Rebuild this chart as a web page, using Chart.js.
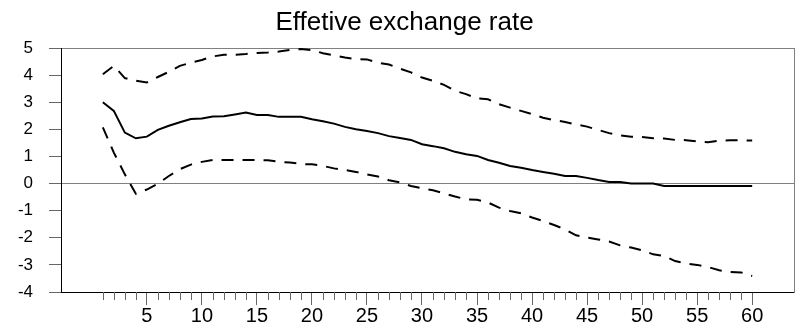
<!DOCTYPE html>
<html>
<head>
<meta charset="utf-8">
<script src="https://cdn.jsdelivr.net/npm/chart.js@4/dist/chart.umd.min.js"></script>
<style>
  html, body { margin: 0; padding: 0; background: #fff; }
  #wrap { width: 796px; height: 327px; }
</style>
</head>
<body>
<div id="wrap"><canvas id="myChart" width="796" height="327"></canvas></div>
<script>
// Impulse response periods
const periods = Array.from({ length: 60 }, (_, i) => i + 1);

// Response of the effective exchange rate
const response = [
    3.00, 2.68, 1.88, 1.67, 1.73, 1.98, 2.13, 2.26, 2.38, 2.40,
    2.47, 2.48, 2.55, 2.62, 2.53, 2.53, 2.46, 2.46, 2.46, 2.37,
    2.30, 2.21, 2.09, 2.00, 1.94, 1.86, 1.75, 1.68, 1.61, 1.45,
    1.38, 1.30, 1.17, 1.08, 1.02, 0.87, 0.77, 0.65, 0.58, 0.50,
    0.43, 0.36, 0.28, 0.28, 0.21, 0.13, 0.06, 0.06, 0.00, 0.00,
    0.00, -0.09, -0.09, -0.09, -0.09, -0.09, -0.09, -0.09, -0.09, -0.09
];

// Upper band (+2 s.e.)
const upper = [
    4.03, 4.34, 3.89, 3.79, 3.73, 3.93, 4.12, 4.34, 4.46, 4.56,
    4.69, 4.75, 4.75, 4.78, 4.82, 4.83, 4.87, 4.93, 4.96, 4.92,
    4.81, 4.73, 4.65, 4.59, 4.58, 4.46, 4.39, 4.24, 4.10, 3.91,
    3.79, 3.64, 3.42, 3.30, 3.14, 3.11, 2.93, 2.80, 2.68, 2.56,
    2.43, 2.34, 2.27, 2.18, 2.10, 1.98, 1.86, 1.78, 1.73, 1.72,
    1.67, 1.66, 1.61, 1.60, 1.55, 1.52, 1.58, 1.60, 1.59, 1.59
];

// Lower band (-2 s.e.)
const lower = [
    2.07, 1.14, 0.34, -0.38, -0.22, -0.01, 0.28, 0.53, 0.70, 0.80,
    0.87, 0.87, 0.87, 0.87, 0.87, 0.86, 0.80, 0.78, 0.72, 0.71,
    0.65, 0.56, 0.50, 0.43, 0.34, 0.26, 0.12, 0.04, -0.09, -0.17,
    -0.25, -0.36, -0.48, -0.58, -0.60, -0.70, -0.89, -1.01, -1.10, -1.25,
    -1.38, -1.53, -1.69, -1.91, -1.99, -2.06, -2.14, -2.28, -2.36, -2.46,
    -2.61, -2.67, -2.86, -2.95, -3.00, -3.08, -3.20, -3.26, -3.28, -3.41
];

// Axis ticks
const yTicks = [-4, -3, -2, -1, 0, 1, 2, 3, 4, 5];
const xLabelTicks = [5, 10, 15, 20, 25, 30, 35, 40, 45, 50, 55, 60];

const FONT = "Arial, 'Liberation Sans', sans-serif";
const TICK_GRAY = '#666666';
const FRAME_GRAY = '#808080';

function toPoints(values) {
    return periods.map((p, i) => ({ x: p, y: values[i] }));
}

// short tick marks for every period that has no label
const minorTicks = {
    id: 'minorTicks',
    afterDraw(chart) {
        const xs = chart.scales.x;
        const ctx = chart.ctx;
        ctx.save();
        ctx.strokeStyle = TICK_GRAY;
        ctx.lineWidth = 1;
        ctx.beginPath();
        periods.forEach(p => {
            if (p % 5 === 0) return;
            const px = Math.round(xs.getPixelForValue(p)) + 0.5;
            ctx.moveTo(px, xs.top);
            ctx.lineTo(px, xs.top + 8);
        });
        ctx.stroke();
        ctx.restore();
    }
};

const ctx = document.getElementById('myChart');

new Chart(ctx, {
    type: 'line',
    data: {
        datasets: [
            {
                data: toPoints(upper),
                borderColor: '#000',
                borderWidth: 2,
                borderDash: [12, 9],
                pointRadius: 0,
                tension: 0
            },
            {
                data: toPoints(response),
                borderColor: '#000',
                borderWidth: 2,
                pointRadius: 0,
                tension: 0
            },
            {
                data: toPoints(lower),
                borderColor: '#000',
                borderWidth: 2,
                borderDash: [12, 9],
                pointRadius: 0,
                tension: 0
            }
        ]
    },
    options: {
        responsive: false,
        animation: false,
        events: [],
        layout: { padding: { left: 15, right: 2, top: 0, bottom: 0 } },
        plugins: {
            legend: { display: false },
            tooltip: { enabled: false },
            title: {
                display: true,
                text: 'Effetive exchange rate',
                color: '#000',
                font: { family: FONT, size: 26, weight: 'normal', lineHeight: 1.2 },
                padding: { top: 7, bottom: 9.8 }
            }
        },
        scales: {
            x: {
                type: 'linear',
                min: -2.8,
                max: 63.8,
                afterBuildTicks: scale => {
                    scale.ticks = xLabelTicks.map(v => ({ value: v }));
                },
                afterFit: scale => { scale.height = 35; },
                ticks: {
                    color: '#000',
                    font: { family: FONT, size: 20 },
                    padding: -1,
                    maxRotation: 0,
                    autoSkip: false
                },
                grid: {
                    drawOnChartArea: false,
                    drawTicks: true,
                    tickLength: 13,
                    tickColor: TICK_GRAY
                },
                border: { display: true, color: '#000', width: 1 }
            },
            y: {
                min: -4,
                max: 5,
                afterBuildTicks: scale => {
                    scale.ticks = yTicks.map(v => ({ value: v }));
                },
                afterFit: scale => { scale.width = 46; },
                ticks: {
                    color: '#000',
                    font: { family: FONT, size: 17 },
                    padding: 16
                },
                grid: {
                    drawTicks: true,
                    tickLength: 12,
                    tickColor: TICK_GRAY,
                    color: c => (c.tick && (c.tick.value === 0 || c.tick.value === 5)) ? FRAME_GRAY : 'rgba(0,0,0,0)',
                    lineWidth: 1
                },
                border: { display: true, color: '#000', width: 1 }
            },
            yRight: {
                position: 'right',
                min: -4,
                max: 5,
                ticks: { display: false },
                grid: { drawOnChartArea: false, drawTicks: false },
                border: { display: true, color: FRAME_GRAY, width: 1 },
                afterFit: scale => { scale.width = 0; }
            }
        }
    },
    plugins: [minorTicks]
});
</script>
</body>
</html>
